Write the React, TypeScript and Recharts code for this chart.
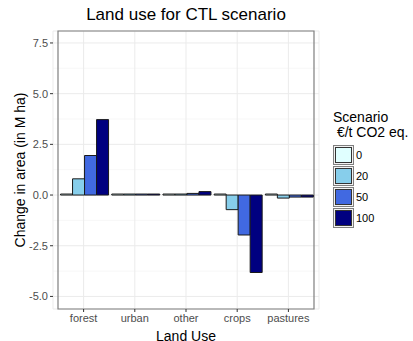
import React from "react";
import {
  Bar,
  BarChart,
  CartesianGrid,
  ReferenceArea,
  XAxis,
  YAxis,
} from "recharts";

const landUses = ["forest", "urban", "other", "crops", "pastures"];
const scenario0 = [0, 0, 0, 0, 0];
const scenario20 = [0.8, 0.01, 0.03, -0.72, -0.15];
const scenario50 = [1.95, 0.01, 0.08, -1.97, -0.1];
const scenario100 = [3.72, 0.01, 0.17, -3.82, -0.1];
const yTicks = [-5, -2.5, 0, 2.5, 5, 7.5];
const yMinor = [-3.75, -1.25, 1.25, 3.75, 6.25];

const series = [
  { key: "s0", label: "0", color: "#E0FFFF", values: scenario0 },
  { key: "s20", label: "20", color: "#87CEEB", values: scenario20 },
  { key: "s50", label: "50", color: "#4169E1", values: scenario50 },
  { key: "s100", label: "100", color: "#000080", values: scenario100 },
];

const data = landUses.map((name, i) => {
  const row: Record<string, string | number> = { name };
  series.forEach((s) => (row[s.key] = s.values[i]));
  return row;
});

const font = "'Liberation Sans', Arial, sans-serif";

function LegendBox() {
  return (
    <div style={{ position: "absolute", left: 333, top: 110, fontFamily: font, color: "#000" }}>
      <div style={{ fontSize: 14, lineHeight: "15px", whiteSpace: "pre" }}>
        {"Scenario\n €/t CO2 eq."}
      </div>
      <div style={{ marginTop: 4 }}>
        {series.map((s) => (
          <div key={s.key} style={{ display: "flex", alignItems: "center", height: 21 }}>
            <div
              style={{
                width: 21,
                height: 20,
                border: "1px solid #7f7f7f",
                boxSizing: "border-box",
                padding: 1,
                background: "#f2f2f2",
              }}
            >
              <div
                style={{
                  width: "100%",
                  height: "100%",
                  background: s.color,
                  border: "1px solid #333",
                  boxSizing: "border-box",
                }}
              />
            </div>
            <span style={{ fontSize: 11, marginLeft: 2 }}>{s.label}</span>
          </div>
        ))}
      </div>
    </div>
  );
}

export default function App() {
  return (
    <div style={{ position: "absolute", left: 0, top: 0, width: 413, height: 341, background: "#fff" }}>
      <div
        style={{
          position: "absolute",
          top: 5,
          left: 53,
          width: 266,
          textAlign: "center",
          fontFamily: font,
          fontSize: 17,
          color: "#000",
        }}
      >
        Land use for CTL scenario
      </div>
      <BarChart
        width={413}
        height={341}
        data={data}
        margin={{ top: 31, right: 94, bottom: 0, left: 0 }}
        barCategoryGap="5%"
        barGap={0}
        style={{ fontFamily: font }}
      >
        <CartesianGrid stroke="#f5f5f5" strokeWidth={0.8} vertical={false} horizontalValues={yMinor} />
        <CartesianGrid stroke="#ebebeb" strokeWidth={1} />
        <XAxis
          dataKey="name"
          height={32}
          padding={{ left: 5, right: 5 }}
          axisLine={false}
          tickSize={3}
          tickLine={{ stroke: "#333" }}
          tick={{ fill: "#4d4d4d", fontSize: 11 }}
          label={{ value: "Land Use", position: "insideBottom", offset: 0, fill: "#000", fontSize: 14 }}
        />
        <YAxis
          width={53}
          domain={[-5.62, 8.09]}
          ticks={yTicks}
          allowDataOverflow
          axisLine={false}
          tickSize={3}
          tickLine={{ stroke: "#333" }}
          tick={{ fill: "#4d4d4d", fontSize: 11 }}
          tickFormatter={(v: number) => v.toFixed(1)}
          label={{
            value: "Change in area (in M ha)",
            angle: -90,
            position: "insideLeft",
            offset: 20,
            style: { textAnchor: "middle", fill: "#000", fontSize: 14 },
          }}
        />
        {series.map((s) => (
          <Bar
            key={s.key}
            dataKey={s.key}
            name={s.label}
            fill={s.color}
            stroke="#1a1a1a"
            strokeWidth={1}
            minPointSize={1}
            isAnimationActive={false}
          />
        ))}
        <ReferenceArea y1={-5.62} y2={8.09} fill="none" stroke="#7f7f7f" strokeWidth={1.2} ifOverflow="visible" />
      </BarChart>
      <LegendBox />
    </div>
  );
}
